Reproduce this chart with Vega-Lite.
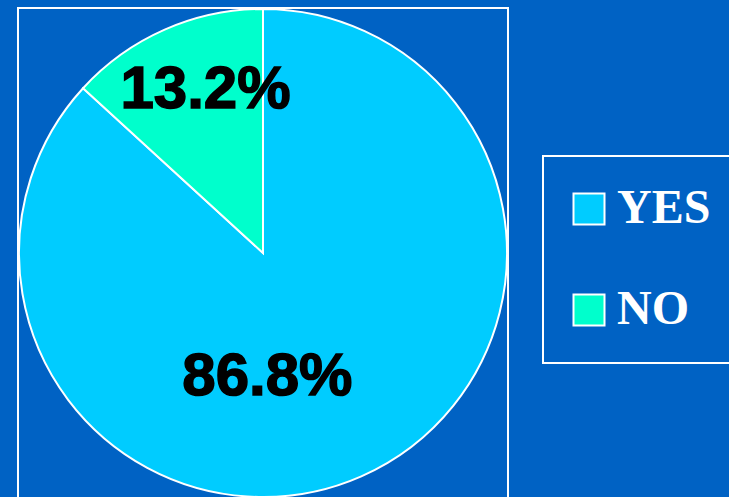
{
  "$schema": "https://vega.github.io/schema/vega-lite/v6.json",
  "width": 490,
  "height": 490,
  "autosize": {"type": "none"},
  "padding": {"left": 18, "top": 8, "right": 221, "bottom": 0},
  "background": "#0062C4",
  "view": {"stroke": "white", "strokeWidth": 2},
  "data": {
    "values": [
      {"answer": "YES", "pct": 86.8, "label": "86.8%", "o": 1},
      {"answer": "NO", "pct": 13.2, "label": "13.2%", "o": 2}
    ]
  },
  "encoding": {
    "theta": {"field": "pct", "type": "quantitative", "stack": true},
    "order": {"field": "o", "type": "quantitative"}
  },
  "layer": [
    {
      "mark": {"type": "arc", "radius": 244, "stroke": "white", "strokeWidth": 2},
      "encoding": {
        "color": {
          "field": "answer",
          "type": "nominal",
          "scale": {"domain": ["YES", "NO"], "range": ["#00CCFF", "#00FFCC"]},
          "legend": {
            "orient": "none",
            "legendX": 525,
            "legendY": 148,
            "title": null,
            "direction": "vertical",
            "padding": 29,
            "strokeColor": "white",
            "symbolType": "square",
            "symbolSize": 961,
            "symbolOffset": -7,
            "symbolStrokeColor": "white",
            "symbolStrokeWidth": 2,
            "symbolOpacity": 1,
            "labelFont": "Liberation Serif",
            "labelFontSize": 48,
            "labelFontWeight": "bold",
            "labelColor": "white",
            "labelOffset": 4,
            "rowPadding": 53,
            "labelLimit": 400,
            "labelExpr": "datum.label + '      '"
          }
        }
      }
    },
    {
      "mark": {"type": "text", "radius": 175, "dx": 13, "dy": 15, "baseline": "alphabetic", "align": "center", "font": "Liberation Sans", "fontSize": 60, "fontWeight": "bold", "fill": "black", "stroke": "black", "strokeWidth": 1.5},
      "encoding": {"text": {"condition": {"test": "datum.answer === 'NO'", "field": "label"}, "value": ""}}
    },
    {
      "mark": {"type": "text", "radius": 140, "dx": -52, "dy": 14, "baseline": "alphabetic", "align": "center", "font": "Liberation Sans", "fontSize": 60, "fontWeight": "bold", "fill": "black", "stroke": "black", "strokeWidth": 1.5},
      "encoding": {"text": {"condition": {"test": "datum.answer === 'YES'", "field": "label"}, "value": ""}}
    }
  ],
  "config": {
    "legend": {"strokeWidth": 2}
  }
}
